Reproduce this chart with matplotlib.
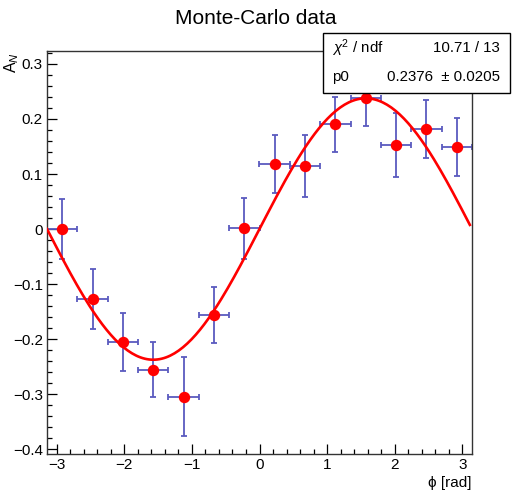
import numpy as np
import matplotlib
matplotlib.use("Agg")
import matplotlib.pyplot as plt
from matplotlib.patches import Rectangle
from matplotlib.ticker import MultipleLocator

plt.rcParams['font.family'] = ['Liberation Sans', 'DejaVu Sans']
plt.rcParams['mathtext.fontset'] = 'custom'
plt.rcParams['mathtext.rm'] = 'Liberation Sans'
plt.rcParams['mathtext.it'] = 'Liberation Sans:italic'

# ---- data ----
n_bins = 14
phi_centers = -np.pi + (np.arange(n_bins) + 0.5) * 2 * np.pi / n_bins
phi_err = np.full(n_bins, np.pi / n_bins)
an_values = [0.000, -0.127, -0.206, -0.256, -0.305, -0.156, 0.001,
             0.118, 0.115, 0.190, 0.239, 0.153, 0.182, 0.149]
an_errors = [0.055, 0.054, 0.053, 0.050, 0.072, 0.051, 0.055,
             0.053, 0.056, 0.050, 0.051, 0.058, 0.053, 0.053]
p0 = 0.2376
p0_err = 0.0205
chi2 = 10.71
ndf = 13
fit_range = (-np.pi, 3.11)
title = "Monte-Carlo data"
xlabel = "ϕ [rad]"
ylabel = "A$_{N}$"

W, H = 513, 492
fig = plt.figure(figsize=(W / 100, H / 100), dpi=100)
ax = fig.add_axes([47 / W, 1 - 454 / H, (472 - 47) / W, (454 - 51) / H])

ax.errorbar(phi_centers, an_values, xerr=phi_err, yerr=an_errors, fmt='none',
            ecolor='#5a5abf', elinewidth=1.3, capsize=2.5, capthick=1.3, zorder=2)
xf = np.linspace(fit_range[0], fit_range[1], 200)
ax.plot(xf, p0 * np.sin(xf), color='#ff0000', lw=1.9, zorder=3)
ax.plot(phi_centers, an_values, 'o', color='#ff0000', ms=7.2, mec='#ff0000', zorder=4)

ax.set_xlim(-np.pi, np.pi)
ax.set_ylim(-0.409, 0.3236)
ax.xaxis.set_minor_locator(MultipleLocator(0.2))
ax.yaxis.set_minor_locator(MultipleLocator(0.02))
ax.tick_params(which='both', direction='in', top=False, right=False, labelsize=11, pad=3)
ax.tick_params(which='major', length=7, width=0.9)
ax.tick_params(which='minor', length=3.5, width=0.9)
ax.set_yticks(np.arange(-0.4, 0.31, 0.1))
ax.set_yticklabels(['\u22120.4', '\u22120.3', '\u22120.2', '\u22120.1', '0', '0.1', '0.2', '0.3'])
ax.set_xticks(np.arange(-3, 4, 1))
ax.set_xticklabels(['\u22123', '\u22122', '\u22121', '0', '1', '2', '3'])
for s in ax.spines.values():
    s.set_linewidth(1.0)
    s.set_color('#333333')

fig.text(255.5 / W, 1 - 18 / H, title, ha='center', va='center', fontsize=15)
fig.text(472 / W, 1 - 483 / H, xlabel, ha='right', va='center', fontsize=11)
fig.text(12 / W, 1 - 52 / H, ylabel, ha='center', va='top', rotation=90, fontsize=11.5)

# stats box
box = Rectangle((323 / W, 1 - 93 / H), (510 - 323) / W, (93 - 33) / H,
                transform=fig.transFigure, facecolor='white', edgecolor='black',
                lw=1.0, zorder=10)
fig.patches.append(box)
fs = 10.8
fig.text(332 / W, 1 - 48 / H, "$\\chi^2$ / ndf", ha='left', va='center', fontsize=fs, zorder=11)
fig.text(500 / W, 1 - 48 / H, f"{chi2:.2f} / {ndf}", ha='right', va='center', fontsize=fs, zorder=11)
fig.text(332 / W, 1 - 77 / H, "p0", ha='left', va='center', fontsize=fs, zorder=11)
fig.text(500 / W, 1 - 77 / H, f"{p0:.4f}  \u00b1 {p0_err:.4f}", ha='right', va='center', fontsize=fs, zorder=11)

fig.savefig("out.png", dpi=100)
